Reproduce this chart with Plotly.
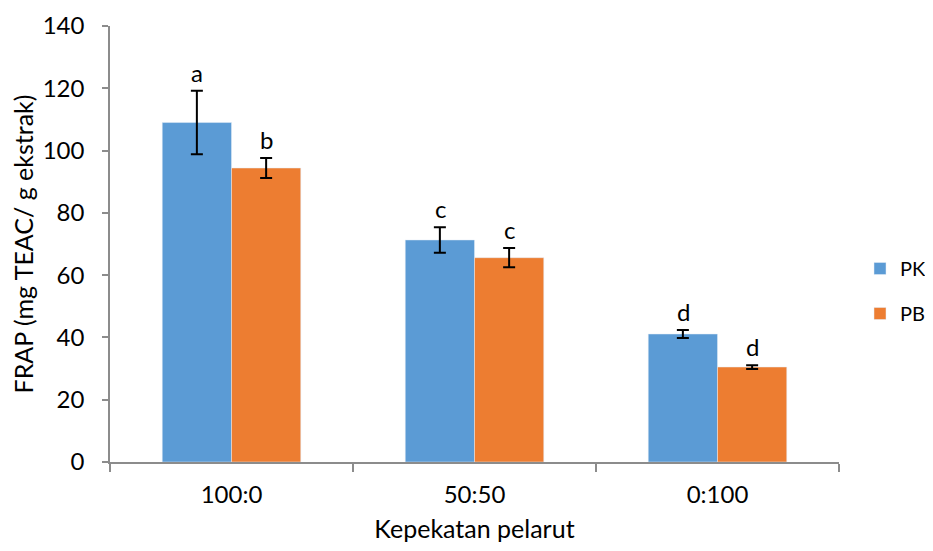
import plotly.graph_objects as go

categories = ["100:0", "50:50", "0:100"]
pk_values = [109.0, 71.3, 41.1]
pk_errors = [10.2, 4.1, 1.3]
pb_values = [94.4, 65.6, 30.5]
pb_errors = [3.2, 3.1, 0.6]
pk_letters = ["a", "c", "d"]
pb_letters = ["b", "c", "d"]
y_ticks = [0, 20, 40, 60, 80, 100, 120, 140]

FONT = "Lato, 'Open Sans', sans-serif"
BLUE = "#5B9BD5"
ORANGE = "#ED7D31"
AXIS = "#8C8C8C"

W, H = 917, 535  # page adds an 8px body margin on every side

fig = go.Figure()
fig.add_trace(go.Bar(
    name="PK", x=categories, y=pk_values, marker_color=BLUE,
    legendgroup="pk",
    error_y=dict(type="data", array=pk_errors, color="black", thickness=2, width=6),
))
fig.add_trace(go.Bar(
    name="PB", x=categories, y=pb_values, marker_color=ORANGE,
    legendgroup="pb",
    error_y=dict(type="data", array=pb_errors, color="black", thickness=2, width=6),
))

annotations = []
for cat, v, e, lt in zip(categories, pk_values, pk_errors, pk_letters):
    annotations.append(dict(x=cat, y=v + e, text=lt, showarrow=False, xref="x", yref="y",
                            xshift=-34.5, yanchor="bottom", yshift=2,
                            font=dict(family=FONT, size=24, color="black")))
for cat, v, e, lt in zip(categories, pb_values, pb_errors, pb_letters):
    annotations.append(dict(x=cat, y=v + e, text=lt, showarrow=False, xref="x", yref="y",
                            xshift=34.5, yanchor="bottom", yshift=2,
                            font=dict(family=FONT, size=24, color="black")))

fig.update_layout(
    width=W, height=H,
    margin=dict(l=102, r=86, t=18, b=81),
    paper_bgcolor="white", plot_bgcolor="white",
    font=dict(family=FONT, size=24, color="black"),
    barmode="group", bargap=0.43, bargroupgap=0,
    showlegend=True,
    legend=dict(xref="container", yref="container", x=852 / W, y=1 - 283 / H,
                xanchor="left", yanchor="middle",
                font=dict(family=FONT, size=20, color="black"),
                tracegroupgap=16, bgcolor="rgba(0,0,0,0)"),
    annotations=annotations,
    xaxis=dict(
        automargin=False,
        showline=True, linecolor=AXIS, linewidth=1.5,
        ticks="outside", tickson="boundaries", ticklen=8, tickcolor=AXIS, tickwidth=1.5,
        ticklabelstandoff=10,
        showgrid=False, tickfont=dict(family=FONT, size=24),
        title=dict(text="Kepekatan pelarut", font=dict(family=FONT, size=25), standoff=30),
    ),
    yaxis=dict(
        automargin=False,
        range=[0, 140], tickvals=y_ticks, showline=True, linecolor=AXIS, linewidth=1.5,
        ticks="outside", ticklen=6, tickcolor=AXIS, tickwidth=1.5,
        ticklabelstandoff=13,
        showgrid=False, zeroline=False, tickfont=dict(family=FONT, size=24),
        title=dict(text="FRAP (mg TEAC/ g ekstrak)", font=dict(family=FONT, size=25), standoff=10),
    ),
)

fig.write_html("out.html")
